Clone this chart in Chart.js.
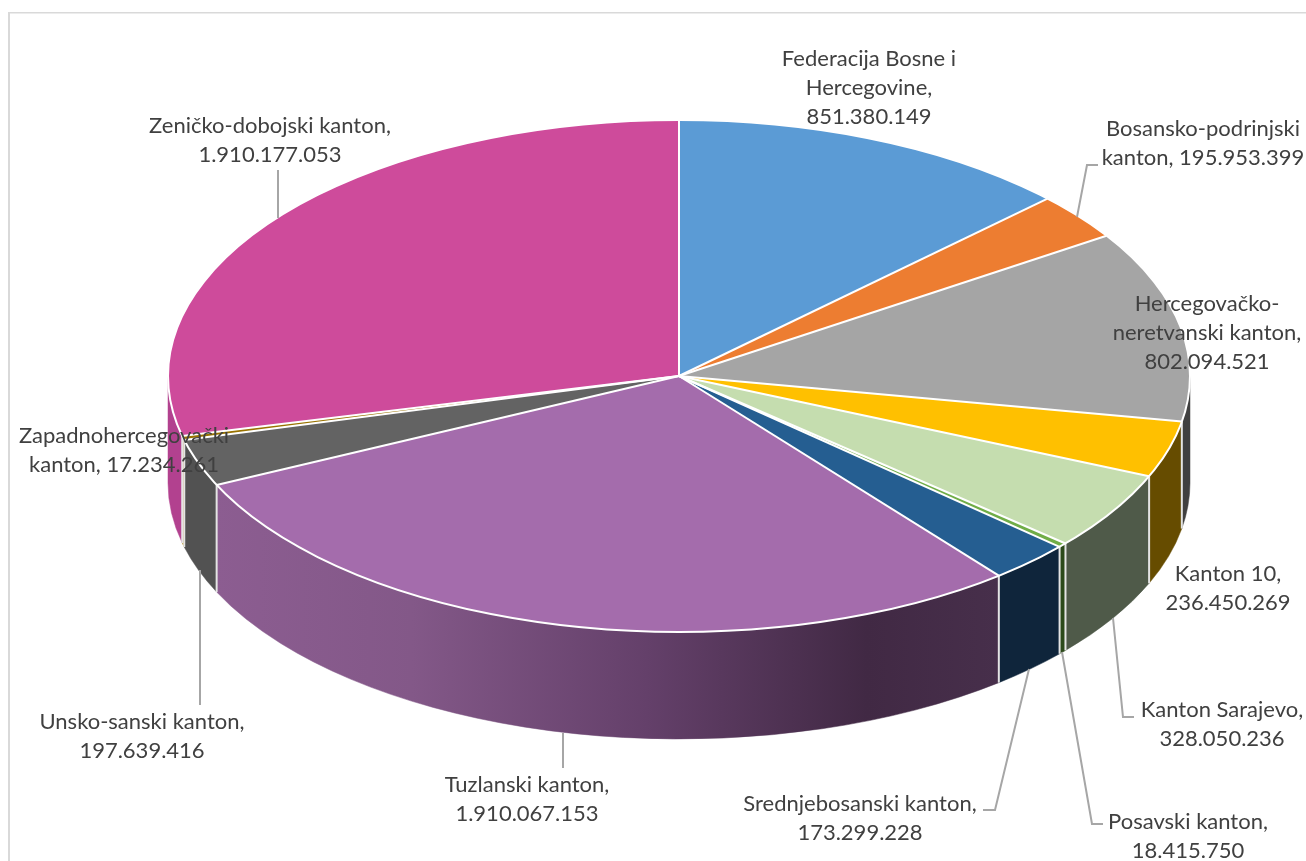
<!DOCTYPE html>
<html><head><meta charset="utf-8">
<style>html,body{margin:0;padding:0;background:#fff;overflow:hidden}canvas{display:block}</style>
<script src="https://cdn.jsdelivr.net/npm/chart.js@4/dist/chart.umd.js"></script>
</head><body><canvas id="c" width="1306" height="861"></canvas>
<script>
const categories = ['Federacija Bosne i Hercegovine','Bosansko-podrinjski kanton','Hercegovačko-neretvanski kanton','Kanton 10','Kanton Sarajevo','Posavski kanton','Srednjebosanski kanton','Tuzlanski kanton','Unsko-sanski kanton','Zapadnohercegovački kanton','Zeničko-dobojski kanton'];
const values = [851380149,195953399,802094521,236450269,328050236,18415750,173299228,1910067153,197639416,17234261,1910177053];
const topColors = ['#5B9BD5','#ED7D31','#A5A5A5','#FFC000','#C5DDAF','#70AD47','#255E91','#A46CAC','#636363','#997300','#CE4B9B'];
const wallColors = ['#2F5070','#7A4019','#404040','#664C00','#4F5A49','#2C4A1B','#0F253B','#6B4570','#525252','#B8963A','#B2418F'];
const labelLines = [
 ['Federacija Bosne i','Hercegovine,','851.380.149'],
 ['Bosansko-podrinjski','kanton, 195.953.399'],
 ['Hercegovačko-','neretvanski kanton,','802.094.521'],
 ['Kanton 10,','236.450.269'],
 ['Kanton Sarajevo,','328.050.236'],
 ['Posavski kanton,','18.415.750'],
 ['Srednjebosanski kanton,','173.299.228'],
 ['Tuzlanski kanton,','1.910.067.153'],
 ['Unsko-sanski kanton,','197.639.416'],
 ['Zapadnohercegovački','kanton, 17.234.261'],
 ['Zeničko-dobojski kanton,','1.910.177.053']
];
// layout of the projected pie and its annotations (pixels)
const PIE = {cx:679, cy:376, rx:511, ry:256, depth:107};
const labelAnchors = [[869,59],[1203,129],[1207,304],[1228,574],[1222,710],[1188,822],[860,804],[527,785],[142,722],[124,436],[270,126]];
const leaders = [null,[[1077,217],[1087,165],[1098,165]],null,null,[[1113,618],[1123,717],[1134,717]],[[1062,652],[1092,824],[1103,824]],[[1029,669],[995,810],[983,810]],[[563,733],[563,768]],[[200,570],[200,705]],null,[[278,218],[278,170]]];
const FONT = '22px Lato, Carlito, sans-serif';

function wallFill(ctx,i){
  if(i!==7) return wallColors[i];
  const g = ctx.createLinearGradient(216,0,1000,0);
  g.addColorStop(0,'#8C5D91'); g.addColorStop(0.25,'#835888'); g.addColorStop(0.55,'#64406A');
  g.addColorStop(0.83,'#412944'); g.addColorStop(1,'#472F4B');
  return g;
}
const pie3d = {
  id:'pie3d',
  beforeDraw(chart){
    const c = chart.ctx; c.save();
    c.fillStyle='#fff'; c.fillRect(0,0,1306,861);
    c.fillStyle='#D9D9D9'; c.fillRect(8,12,2,849); c.fillRect(8,12,1298,1.5);
    c.restore();
  },
  beforeDatasetsDraw(chart){
    const c = chart.ctx, arcs = chart.getDatasetMeta(0).data, {cx,cy,rx,ry,depth} = PIE;
    // side walls: extrude the visible part of each library arc
    c.save();
    const two = Math.PI*2, segs = [];
    arcs.forEach((a,i)=>{
      let s1 = a.startAngle, e1 = a.endAngle;
      while(e1 > two){ s1 -= two; e1 -= two; }
      const lo = Math.max(s1,0), hi = Math.min(e1,Math.PI);
      if(hi>lo) segs.push({i,lo,hi});
    });
    segs.forEach(({i,lo,hi})=>{
      c.beginPath();
      c.ellipse(cx,cy+depth,rx,ry,0,lo,hi,false);
      c.ellipse(cx,cy,rx,ry,0,hi,lo,true);
      c.closePath();
      const f = wallFill(c,i);
      c.fillStyle=f; c.strokeStyle=f; c.lineWidth=0.5; c.fill(); c.stroke();
    });
    c.strokeStyle='#E4E4E4'; c.lineWidth=2;
    segs.forEach(({lo})=>{
      if(lo<=0) return;
      const x=cx+rx*Math.cos(lo), y=cy+ry*Math.sin(lo);
      c.beginPath(); c.moveTo(x,y); c.lineTo(x,y+depth); c.stroke();
    });
    c.restore();
    // flatten the library's pie onto the ellipse
    const a0 = arcs[0], R = a0.outerRadius;
    c.save();
    c.translate(cx,cy); c.scale(rx/R,ry/R); c.translate(-a0.x,-a0.y);
  },
  afterDatasetsDraw(chart){
    const c = chart.ctx, arcs = chart.getDatasetMeta(0).data, {cx,cy,rx,ry} = PIE;
    c.restore();
    c.save();
    c.strokeStyle='#fff'; c.lineWidth=2;
    c.beginPath(); c.ellipse(cx,cy,rx,ry,0,0,Math.PI*2); c.stroke();
    arcs.forEach(a=>{
      c.beginPath(); c.moveTo(cx,cy);
      c.lineTo(cx+rx*Math.cos(a.startAngle),cy+ry*Math.sin(a.startAngle)); c.stroke();
    });
    c.restore();
  },
  afterDraw(chart){
    const c = chart.ctx;
    c.save();
    c.strokeStyle='#A6A6A6'; c.lineWidth=2;
    leaders.forEach(p=>{
      if(!p) return;
      c.beginPath(); p.forEach((q,k)=>k?c.lineTo(q[0],q[1]):c.moveTo(q[0],q[1])); c.stroke();
    });
    c.font=FONT; c.fillStyle='#404040'; c.textAlign='center'; c.textBaseline='middle';
    labelLines.forEach((ls,i)=>ls.forEach((t,k)=>c.fillText(t,labelAnchors[i][0],labelAnchors[i][1]+k*29)));
    c.restore();
  }
};
new Chart(document.getElementById('c'),{
  type:'pie',
  data:{labels:categories,datasets:[{data:values,backgroundColor:topColors,borderWidth:0,clip:false}]},
  options:{responsive:false,animation:false,rotation:0,
    plugins:{legend:{display:false},tooltip:{enabled:false},title:{display:false}},
    events:[]},
  plugins:[pie3d]
});
</script></body></html>
